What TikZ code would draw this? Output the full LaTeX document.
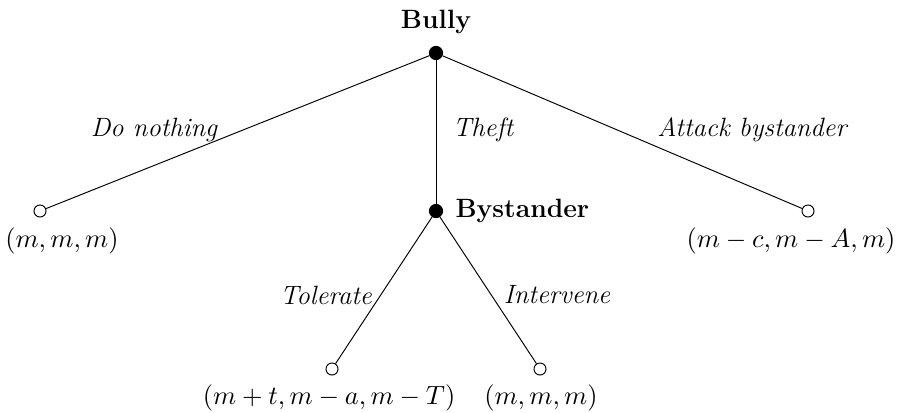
\documentclass[tikz,border=0pt]{standalone}
\usepackage{amsmath,amssymb}
\usetikzlibrary{calc}

\tikzset{
  every node/.append style={font=\fontsize{11}{13.6}\selectfont},
  decision/.style={circle,fill=black,draw=black,inner sep=0pt,minimum size=5.5pt},
  terminal/.style={circle,draw=black,fill=white,inner sep=0pt,minimum size=5pt},
  player/.style={font=\fontsize{11}{13.6}\selectfont\bfseries},
  payoff/.style={},
  move/.style={font=\fontsize{11}{13.6}\selectfont\itshape}
}

\begin{document}
\begin{tikzpicture}[x=0.0146cm,y=-0.0146cm]
  \useasboundingbox (0,0) rectangle (912,412);
  % decision nodes
  \node[decision] (bully) at (436,53) {};
  \node[player] (bullylab) at (436,22) {Bully};
  \node[decision] (bystander) at (436,211) {};
  \node[player,anchor=west] (bystanderlab) at (447,211) {Bystander};
  % terminal nodes
  \node[terminal] (nothing) at (40,211) {};
  \node[terminal] (attack) at (808,211) {};
  \node[terminal] (tolerate) at (332,369) {};
  \node[terminal] (intervene) at (540,369) {};
  % branches
  \draw (bully) -- (nothing);
  \draw (bully) -- (bystander);
  \draw (bully) -- (attack);
  \draw (bystander) -- (tolerate);
  \draw (bystander) -- (intervene);
  % move labels
  \node[move] at (154,130) {Do nothing};
  \node[move] at (483,130) {Theft};
  \node[move] at (752,130) {Attack bystander};
  \node[move] at (326,295) {Tolerate};
  \node[move] at (557,295) {Intervene};
  % payoffs
  \node[payoff] at (62,241) {$(m,m,m)$};
  \node[payoff] at (791,241) {$(m-c,m-A,m)$};
  \node[payoff] at (329,398) {$(m+t,m-a,m-T)$};
  \node[payoff] at (541,398) {$(m,m,m)$};
\end{tikzpicture}
\end{document}
